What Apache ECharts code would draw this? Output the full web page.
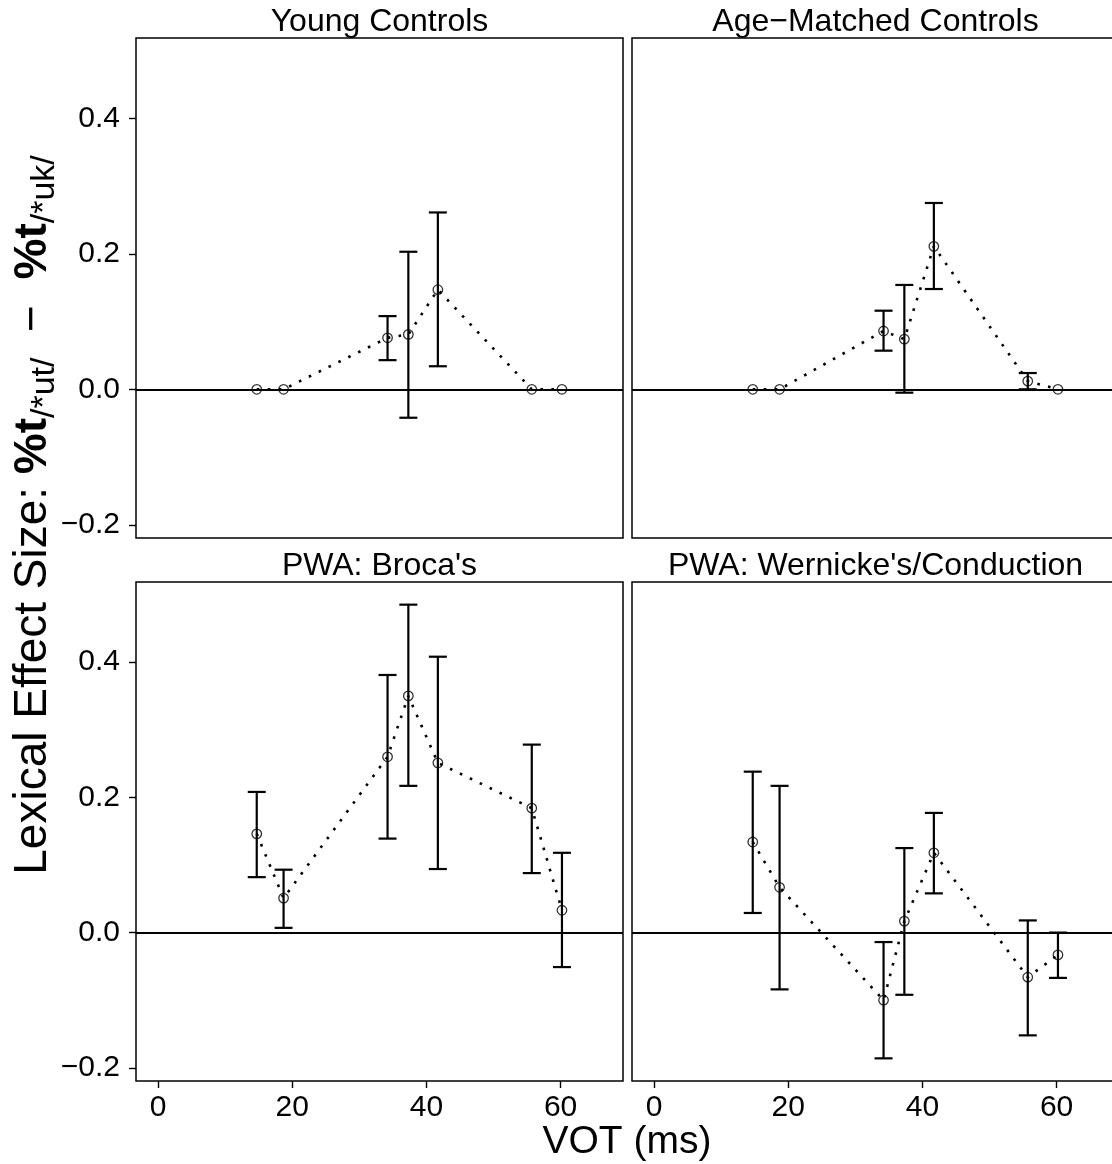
<!DOCTYPE html>
<html>
<head>
<meta charset="utf-8">
<script src="https://cdn.jsdelivr.net/npm/echarts@6/dist/echarts.min.js"></script>
<style>
  html, body { margin: 0; padding: 0; background: #fff; overflow: hidden; }
  #chart { width: 1120px; height: 1164px; }
</style>
</head>
<body>
<div id="chart"></div>
<script>
// Voice onset time of the continuum steps (ms)
const vot = [14.7, 18.7, 34.2, 37.3, 41.7, 55.7, 60.2];

// Facet titles
const panelTitles = ['Young Controls', 'Age\u2212Matched Controls', "PWA: Broca's", "PWA: Wernicke's/Conduction"];

// Tick labels
const xTicks = [0, 20, 40, 60];
const yTicks = [-0.2, 0.0, 0.2, 0.4];

// Lexical effect size per group, with error bar limits (null = no bar)
const youngMean = [0, 0, 0.076, 0.081, 0.147, 0, 0];
const youngLow  = [null, null, 0.043, -0.042, 0.034, null, null];
const youngHigh = [null, null, 0.108, 0.203, 0.261, null, null];

const ageMean = [0, 0, 0.086, 0.074, 0.211, 0.012, 0];
const ageLow  = [null, null, 0.057, -0.005, 0.148, 0.0, null];
const ageHigh = [null, null, 0.116, 0.154, 0.275, 0.024, null];

const brocaMean = [0.146, 0.051, 0.260, 0.350, 0.251, 0.184, 0.033];
const brocaLow  = [0.082, 0.007, 0.139, 0.217, 0.094, 0.088, -0.051];
const brocaHigh = [0.208, 0.093, 0.381, 0.485, 0.408, 0.278, 0.118];

const wernMean = [0.134, 0.067, -0.100, 0.017, 0.118, -0.066, -0.033];
const wernLow  = [0.029, -0.084, -0.186, -0.092, 0.058, -0.152, -0.067];
const wernHigh = [0.238, 0.217, -0.014, 0.125, 0.177, 0.018, 0.000];

const groups = [
  { mean: youngMean, low: youngLow, high: youngHigh },
  { mean: ageMean, low: ageLow, high: ageHigh },
  { mean: brocaMean, low: brocaLow, high: brocaHigh },
  { mean: wernMean, low: wernLow, high: wernHigh }
];

const FONT = "'Liberation Sans', Arial, Helvetica, sans-serif";
const X_MIN = -3.3, X_MAX = 69.3;
const Y_MIN = -0.2195, Y_MAX = 0.5185;

// panel rectangles (left, top, width, height)
const panels = [
  { left: 136, top: 38, width: 487, height: 500 },
  { left: 632, top: 38, width: 487, height: 500 },
  { left: 136, top: 582, width: 487, height: 499 },
  { left: 632, top: 582, width: 487, height: 499 }
];

const chart = echarts.init(document.getElementById('chart'), null, { renderer: 'canvas' });

const grids = [], xAxes = [], yAxes = [], series = [], graphics = [];

panels.forEach((p, i) => {
  const bottomRow = i >= 2;
  const leftCol = i % 2 === 0;
  grids.push({
    left: p.left, top: p.top, width: p.width, height: p.height,
    show: true, borderColor: '#000', borderWidth: 1.5, backgroundColor: 'transparent',
    containLabel: false
  });
  xAxes.push({
    gridIndex: i, type: 'value', min: X_MIN, max: X_MAX, position: 'bottom',
    splitLine: { show: false },
    axisLine: { show: false, onZero: false },
    axisTick: { show: bottomRow, customValues: xTicks, length: 7, lineStyle: { color: '#000', width: 1.4 } },
    axisLabel: {
      show: bottomRow, customValues: xTicks, margin: 12,
      color: '#000', fontSize: 30, fontFamily: FONT,
      formatter: v => String(Math.round(v))
    }
  });
  yAxes.push({
    gridIndex: i, type: 'value', min: Y_MIN, max: Y_MAX, position: 'left',
    splitLine: { show: false },
    axisLine: { show: false, onZero: false },
    axisTick: { show: leftCol, customValues: yTicks, length: 7, lineStyle: { color: '#000', width: 1.4 } },
    axisLabel: {
      show: leftCol, customValues: yTicks, margin: 16,
      color: '#000', fontSize: 30, fontFamily: FONT,
      formatter: v => v.toFixed(1).replace('-', '\u2212')
    }
  });

  const g = groups[i];
  const pts = vot.map((x, k) => [x, g.mean[k]]);
  const bars = [];
  vot.forEach((x, k) => {
    if (g.low[k] !== null && g.high[k] !== null) bars.push([x, g.low[k], g.high[k]]);
  });

  // dotted connecting line plus the zero reference line
  series.push({
    type: 'line', xAxisIndex: i, yAxisIndex: i, data: pts,
    symbol: 'none', z: 2, silent: true,
    lineStyle: { color: '#000', width: 2.6, type: [2.6, 8.4], cap: 'butt' },
    markLine: {
      silent: true, symbol: 'none', label: { show: false },
      lineStyle: { color: '#000', width: 2, type: 'solid' },
      data: [{ yAxis: 0 }]
    }
  });
  // error bars
  series.push({
    type: 'custom', xAxisIndex: i, yAxisIndex: i, data: bars, z: 3,
    encode: { x: 0, y: [1, 2] },
    renderItem: (params, api) => {
      const x = api.value(0);
      const lo = api.coord([x, api.value(1)]);
      const hi = api.coord([x, api.value(2)]);
      const half = 9;
      const st = { stroke: '#000', lineWidth: 2.2, fill: null };
      return {
        type: 'group',
        children: [
          { type: 'line', shape: { x1: lo[0], y1: lo[1], x2: hi[0], y2: hi[1] }, style: st },
          { type: 'line', shape: { x1: hi[0] - half, y1: hi[1], x2: hi[0] + half, y2: hi[1] }, style: st },
          { type: 'line', shape: { x1: lo[0] - half, y1: lo[1], x2: lo[0] + half, y2: lo[1] }, style: st }
        ]
      };
    }
  });
  // open circle means
  series.push({
    type: 'scatter', xAxisIndex: i, yAxisIndex: i, data: pts, z: 4,
    symbol: 'circle', symbolSize: 9.5,
    itemStyle: { color: 'rgba(0,0,0,0)', borderColor: '#000', borderWidth: 1.3 }
  });

  // facet title
  graphics.push({
    type: 'text', x: p.left + p.width / 2, y: p.top - 16,
    style: {
      text: panelTitles[i], fill: '#000', font: '32px ' + FONT,
      textAlign: 'center', textVerticalAlign: 'middle', verticalAlign: 'middle'
    }
  });
});

// x axis title
graphics.push({
  type: 'text', x: 627, y: 1142,
  style: {
    text: 'VOT (ms)', fill: '#000', font: '39px ' + FONT,
    textAlign: 'center', textVerticalAlign: 'middle', verticalAlign: 'middle'
  }
});

// y axis title with subscripts
graphics.push({
  type: 'text', x: 33, y: 515, rotation: Math.PI / 2,
  style: {
    text: '{n|Lexical Effect Size: }{b|%t}{s|/*ut/}{n|  \u2212  }{b|%t}{s|/*uk/}',
    fill: '#000',
    textAlign: 'center', textVerticalAlign: 'middle', verticalAlign: 'middle',
    rich: {
      n: { fontSize: 46, fontFamily: FONT, lineHeight: 58, fill: '#000', color: '#000' },
      b: { fontSize: 46, fontFamily: FONT, fontWeight: 'bold', lineHeight: 58, fill: '#000', color: '#000' },
      s: { fontSize: 34, fontFamily: FONT, lineHeight: 34, verticalAlign: 'bottom', fill: '#000', color: '#000' }
    }
  }
});

chart.setOption({
  animation: false,
  backgroundColor: '#fff',
  grid: grids,
  xAxis: xAxes,
  yAxis: yAxes,
  series: series,
  graphic: graphics
});
</script>
</body>
</html>
